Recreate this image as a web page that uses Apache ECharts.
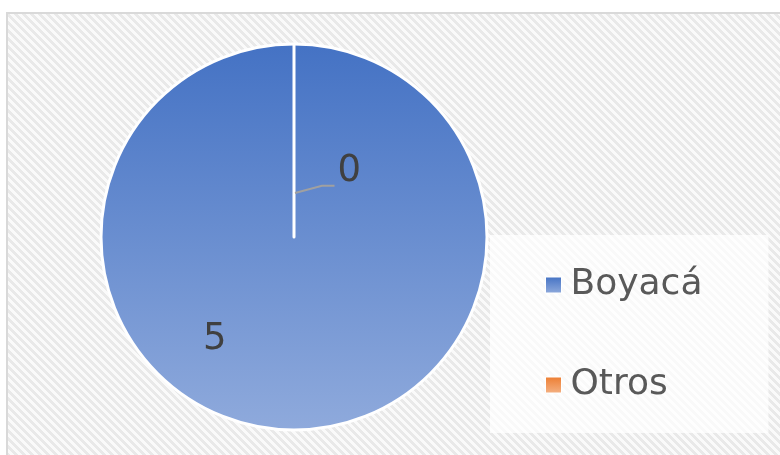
<!DOCTYPE html>
<html>
<head>
<meta charset="utf-8">
<script src="https://cdn.jsdelivr.net/npm/echarts@6/dist/echarts.min.js"></script>
<style>
  html, body { margin: 0; padding: 0; background: #ffffff; }
  #chart { width: 780px; height: 455px; }
</style>
</head>
<body>
<div id="chart"></div>
<script>
// Categories and values
const categories = ['Boyacá', 'Otros'];
const values = [5, 0];

// Fill colours per category (top -> bottom gradient)
const fills = [
  ['#4472c4', '#8faadc'],
  ['#ed7d31', '#f4b183']
];

// Pie geometry
const CX = 294, CY = 237, R = 193;

// Diagonal hatch used for the chart area background
function hatchPattern() {
  const size = 8;
  const c = document.createElement('canvas');
  c.width = size; c.height = size;
  const ctx = c.getContext('2d');
  const img = ctx.createImageData(size, size);
  for (let y = 0; y < size; y++) {
    for (let x = 0; x < size; x++) {
      const k = (((x - y) % size) + size) % size;
      const v = k < 4 ? 233 : 250;
      const i = (y * size + x) * 4;
      img.data[i] = v; img.data[i + 1] = v; img.data[i + 2] = v; img.data[i + 3] = 255;
    }
  }
  ctx.putImageData(img, 0, 0);
  return c;
}

const chart = echarts.init(document.getElementById('chart'), null, { renderer: 'canvas' });
const FONT = "'DejaVu Sans', sans-serif";

const seriesData = categories.map((name, i) => ({
  name: name,
  value: values[i],
  itemStyle: {
    color: new echarts.graphic.LinearGradient(0, 0, 0, 1, [
      { offset: 0, color: fills[i][0] },
      { offset: 1, color: fills[i][1] }
    ])
  },
  label: i === 0 ? { position: 'inside' } : { position: 'outside' }
}));

// Leader line for the zero-value slice label (anchored on the slice edge at the top)
const lx = CX + 0.21 * R;
const ly = CY - 0.265 * R;
const leaderPoints = [
  [CX + 1, CY - 0.228 * R],
  [CX + 0.145 * R, ly],
  [lx, ly]
];

chart.setOption({
  animation: false,
  backgroundColor: '#ffffff',
  graphic: [{
    type: 'rect',
    z: -10,
    silent: true,
    shape: { x: 7, y: 13, width: 800, height: 480 },
    style: {
      fill: { image: hatchPattern(), repeat: 'repeat' },
      stroke: '#d9d9d9',
      lineWidth: 2
    }
  }, {
    type: 'polyline',
    z: 100,
    silent: true,
    shape: { points: leaderPoints },
    style: { stroke: '#a0a0a0', lineWidth: 2, fill: null }
  }],
  legend: {
    orient: 'vertical',
    left: 490,
    top: 235,
    padding: [30, 66, 28, 55],
    backgroundColor: 'rgba(255,255,255,0.7)',
    itemWidth: 16,
    itemHeight: 16,
    itemGap: 60,
    icon: 'rect',
    itemStyle: { borderColor: '#ffffff', borderWidth: 1 },
    textStyle: {
      fontFamily: FONT,
      fontSize: 36,
      color: '#595959',
      lineHeight: 40,
      padding: [0, 0, 0, 4]
    },
    data: categories
  },
  series: [{
    type: 'pie',
    center: [CX, CY],
    radius: R,
    startAngle: 90,
    clockwise: true,
    avoidLabelOverlap: false,
    silent: true,
    itemStyle: { borderColor: '#ffffff', borderWidth: 3 },
    label: {
      show: true,
      formatter: '{c}',
      fontFamily: FONT,
      fontSize: 37,
      color: '#404040'
    },
    labelLine: { show: false },
    labelLayout: function (params) {
      if (params.dataIndex === 0) {
        return { dx: -0.41 * R, dy: 3 };
      }
      return {
        x: lx + 3,
        y: ly - 14,
        align: 'left',
        verticalAlign: 'middle'
      };
    },
    data: seriesData
  }]
});
</script>
</body>
</html>
